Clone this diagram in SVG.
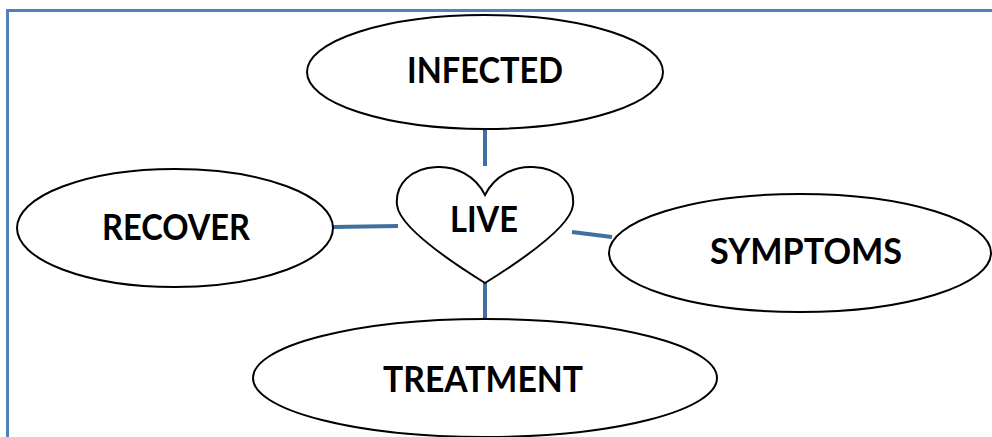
<svg xmlns="http://www.w3.org/2000/svg" width="992" height="437" viewBox="0 0 992 437">
<style>
.node{fill:#fff;stroke:#000;stroke-width:2}
.lbl{font-family:Lato,"Open Sans","Liberation Sans",sans-serif;font-weight:bold;font-size:36px;fill:#000;text-anchor:middle}
.conn{stroke:#41709f;stroke-width:4;fill:none}
</style>
<rect x="0" y="0" width="992" height="437" fill="#fff"/>
<path d="M7.5,440 V10.5 H995" fill="none" stroke="#4f81bd" stroke-width="3"/>
<g id="connectors">
<line class="conn" x1="485" y1="129" x2="485" y2="166"/>
<line class="conn" x1="485" y1="283" x2="485" y2="320"/>
<line class="conn" x1="333" y1="227" x2="398" y2="226"/>
<line class="conn" x1="572" y1="232" x2="612" y2="237"/>
</g>
<g id="infected">
<ellipse class="node" cx="485" cy="72" rx="178" ry="57"/>
<text class="lbl" x="485" y="83" textLength="156" lengthAdjust="spacingAndGlyphs">INFECTED</text>
</g>
<g id="recover">
<ellipse class="node" cx="175" cy="228" rx="158" ry="59"/>
<text class="lbl" x="176" y="240" textLength="148" lengthAdjust="spacingAndGlyphs">RECOVER</text>
</g>
<g id="symptoms">
<ellipse class="node" cx="800" cy="253" rx="191" ry="59"/>
<text class="lbl" x="806" y="264" textLength="192" lengthAdjust="spacingAndGlyphs">SYMPTOMS</text>
</g>
<g id="treatment">
<ellipse class="node" cx="485" cy="378" rx="232" ry="59"/>
<text class="lbl" x="483" y="392" textLength="200" lengthAdjust="spacingAndGlyphs">TREATMENT</text>
</g>
<g id="live">
<path class="node" d="M485,195 C475,175 455,166 437,167 C410,168 395,185 397,205 C399,225 440,255 485,283 C530,255 571,225 573,205 C575,185 560,168 533,167 C515,166 495,175 485,195 Z"/>
<text class="lbl" x="484" y="232" textLength="68" lengthAdjust="spacingAndGlyphs">LIVE</text>
</g>
</svg>
